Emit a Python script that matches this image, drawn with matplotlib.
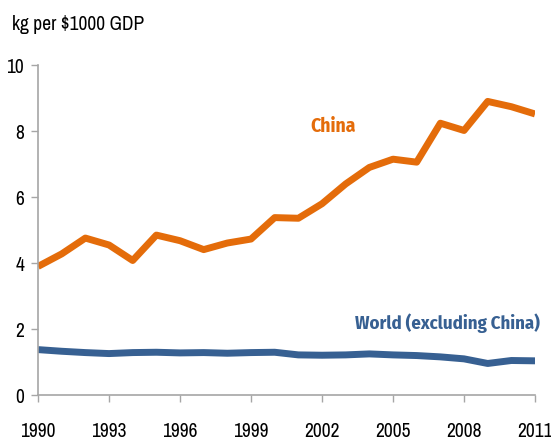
import matplotlib
matplotlib.use('Agg')
import matplotlib.pyplot as plt

years = list(range(1990, 2012))
china = [3.90, 4.28, 4.76, 4.55, 4.08, 4.85, 4.68, 4.41, 4.61, 4.73, 5.38, 5.36,
         5.80, 6.40, 6.90, 7.15, 7.06, 8.24, 8.02, 8.90, 8.74, 8.52]
world = [1.38, 1.33, 1.29, 1.26, 1.29, 1.30, 1.28, 1.29, 1.27, 1.29, 1.30, 1.22,
         1.21, 1.22, 1.25, 1.22, 1.20, 1.16, 1.10, 0.96, 1.05, 1.04]
xticks = list(range(1990, 2012, 3))
yticks = [0, 2, 4, 6, 8, 10]

ORANGE = '#E46C0A'
BLUE = '#376092'
GRAY = '#A6A6A6'

plt.rcParams['font.family'] = ['Archivo Narrow', 'Liberation Sans', 'DejaVu Sans']

fig = plt.figure(figsize=(5.51, 4.43), dpi=100)
ax = fig.add_axes([0.069, 0.108, 0.902, 0.745])

ax.plot(years, china, color=ORANGE, lw=5, solid_joinstyle='round', solid_capstyle='butt')
ax.plot(years, world, color=BLUE, lw=5, solid_joinstyle='round', solid_capstyle='butt')

ax.set_xlim(1990, 2011)
ax.set_ylim(0, 10)
ax.set_xticks(xticks)
ax.set_yticks(yticks)
ax.tick_params(axis='both', colors=GRAY, labelcolor='black', labelsize=14,
               direction='out', length=5, width=1)
ax.tick_params(axis='x', pad=14)
ax.tick_params(axis='y', pad=5)
for s in ['top', 'right']:
    ax.spines[s].set_visible(False)
for s in ['left', 'bottom']:
    ax.spines[s].set_color(GRAY)
    ax.spines[s].set_linewidth(1.2)

# bold condensed face for the series labels
label_font = ['Fira Sans Condensed', 'Liberation Sans', 'DejaVu Sans']
ax.text(2002.45, 8.13, 'China', color=ORANGE, fontsize=14, fontweight='bold',
        family=label_font, ha='center', va='center')
ax.text(2011.2, 2.19, 'World (excluding China)', color=BLUE, fontsize=13.5,
        fontweight='bold', family=label_font, ha='right', va='center', clip_on=False)

fig.text(0.022, 0.945, 'kg per $1000 GDP', fontsize=14, ha='left', va='center')

fig.savefig('out.png', dpi=100)
